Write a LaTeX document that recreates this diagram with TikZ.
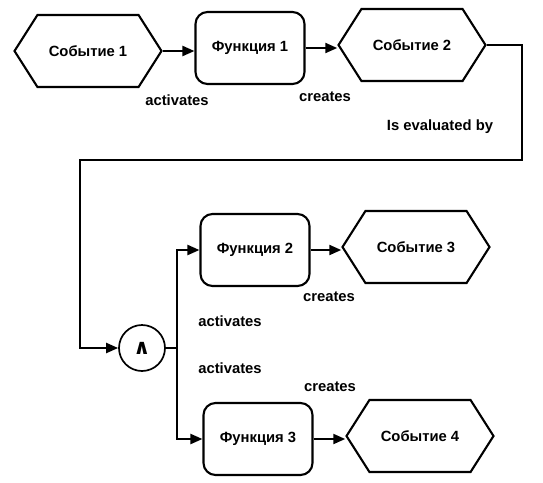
\documentclass[tikz,border=0pt]{standalone}
\usepackage{fontspec}
\setmainfont{Liberation Sans}
\newfontfamily\symfont{DejaVu Sans}
\usetikzlibrary{shapes.symbols,arrows.meta}
\tikzset{
  event/.style={draw, line width=2.1pt, signal, signal to=west and east,
    signal pointer angle=115, minimum width=147pt, minimum height=72pt,
    inner sep=0pt, font=\bfseries},
  func/.style={draw, line width=2.1pt, rectangle, rounded corners=12pt,
    minimum width=109pt, minimum height=72pt, inner sep=0pt, font=\bfseries},
  lbl/.style={font=\bfseries, inner sep=0pt}
}
\begin{document}
\begin{tikzpicture}[x=1pt, y=-1pt, >={Triangle[length=12pt,width=10pt]},
    every node/.append style={text=black}, line width=2.1pt]
  \fontsize{14.8}{17}\selectfont
  \useasboundingbox (0,0) rectangle (543,482);

  \node[event] (e1) at (88,51) {Событие 1};
  \node[func]  (f1) at (250,48) {Функция 1};
  \node[event] (e2) at (412,45) {Событие 2};

  \draw[->] (e1.east) -- (e1.east -| f1.west);
  \draw[->] (f1.east) -- (f1.east -| e2.west);

  \node[lbl] at (177,100) {activates};
  \node[lbl] at (325,97) {creates};
  \node[lbl] at (440,127) {Is evaluated by};

  \node[draw, circle, line width=1.7pt, minimum size=46pt, inner sep=0pt,
    font=\symfont\bfseries\fontsize{21}{21}\selectfont] (and) at (142,348) {∧};
  \coordinate (back) at (80,160);
  \coordinate (split) at (177,348);

  \draw[->] (e2.east) -- ++(35,0) |- (back) |- (and.west);

  \node[func]  (f2) at (255,250) {Функция 2};
  \node[event] (e3) at (416,247) {Событие 3};
  \node[func]  (f3) at (258,439) {Функция 3};
  \node[event] (e4) at (420,436) {Событие 4};

  \draw (and.east) -- (split);
  \draw[->] (split) |- (f2.west);
  \draw[->] (split) |- (f3.west);
  \draw[->] (f2.east) -- (f2.east -| e3.west);
  \draw[->] (f3.east) -- (f3.east -| e4.west);

  \node[lbl] at (230,321) {activates};
  \node[lbl] at (230,368) {activates};
  \node[lbl] at (329,297) {creates};
  \node[lbl] at (330,387) {creates};
\end{tikzpicture}
\end{document}
